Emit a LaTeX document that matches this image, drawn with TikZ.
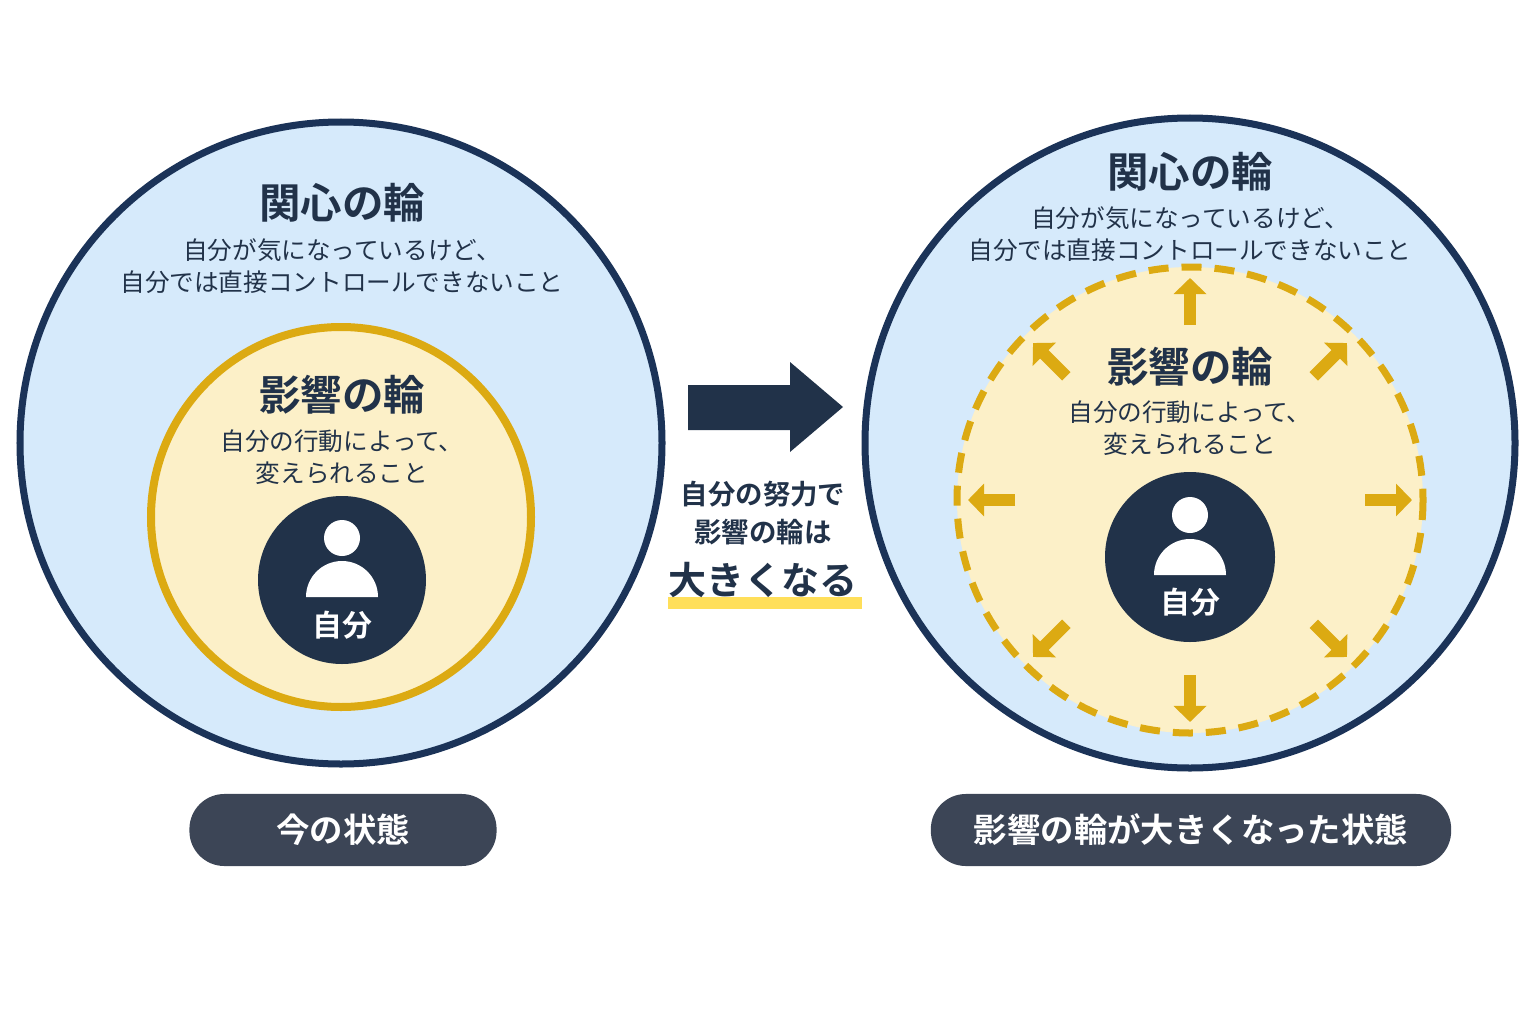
\documentclass[tikz,border=0pt]{standalone}
\usepackage{fontspec}
\usepackage{xcolor}
\newfontfamily\cjk{Noto Sans CJK JP}[BoldFont={Noto Sans CJK JP Bold}]
\usetikzlibrary{arrows.meta,calc}
\definecolor{ConcernFill}{HTML}{D6EAFB}
\definecolor{ConcernLine}{HTML}{1B3358}
\definecolor{InfluFill}{HTML}{FCF0C8}
\definecolor{InfluLine}{HTML}{DCAA12}
\definecolor{SelfDark}{HTML}{213249}
\definecolor{PillGray}{HTML}{3C4556}
\definecolor{Mark}{HTML}{FFDF5A}
\tikzset{
  title/.style={font=\cjk\bfseries\fontsize{11.8}{13}\selectfont, text=SelfDark},
  sub/.style={font=\cjk\fontsize{7}{9}\selectfont, text=SelfDark, align=center},
  pill/.style={fill=PillGray, rounded corners=3.5mm, text=white, font=\cjk\bfseries\fontsize{9.5}{11}\selectfont, minimum height=0.72cm},
  growarrow/.style={-{Triangle[length=1.6mm,width=3.2mm]}, line width=1.2mm, InfluLine}
}
\begin{document}
\begin{tikzpicture}[x=0.01cm,y=-0.01cm]
\useasboundingbox (0,0) rectangle (1536,1024);
%LEFT
\draw[line width=0.7mm, ConcernLine, fill=ConcernFill] (341,443) circle (321);
\draw[line width=0.8mm, InfluLine, fill=InfluFill] (341,517) circle (190);
\fill[SelfDark] (342,580) circle (84);
\fill[white] (342,538) circle (18);
\fill[white] (306,597) arc[start angle=180,end angle=360,radius=36] -- cycle;
\node[title] (lc) at (342,203) {関心の輪};
\node[sub] (lcs) at (342,266) {自分が気になっているけど、\\自分では直接コントロールできないこと};
\node[title] (li) at (342,395) {影響の輪};
\node[sub] (lis) at (342,457) {自分の行動によって、\\変えられること};
\node[font=\cjk\bfseries\fontsize{8.5}{10}\selectfont, text=white] (ls) at (342,625) {自分};
%MIDDLE
\fill[SelfDark] (688,385) -- (790,385) -- (790,362) -- (843,407) -- (790,452) -- (790,430) -- (688,430) -- cycle;
\fill[Mark] (668,597) rectangle (862,609);
\node[font=\cjk\bfseries\fontsize{7.8}{11}\selectfont, text=SelfDark, align=center] (mt) at (763,513) {自分の努力で\\影響の輪は};
\node[font=\cjk\bfseries\fontsize{10.8}{12}\selectfont, text=SelfDark] (mb) at (763,580) {大きくなる};
%RIGHT
\draw[line width=0.7mm, ConcernLine, fill=ConcernFill] (1190,443) circle (325);
\draw[line width=0.7mm, InfluLine, fill=InfluFill, dash pattern=on 2mm off 1.3mm] (1190,500) circle (233);
\foreach \a in {0,45,...,315}
  \draw[growarrow] ($(1190,500)+(\a:175)$) -- ($(1190,500)+(\a:222)$);
\fill[SelfDark] (1190,557) circle (85);
\fill[white] (1190,515) circle (18);
\fill[white] (1154,575) arc[start angle=180,end angle=360,radius=36] -- cycle;
\node[title] (rc) at (1190,172) {関心の輪};
\node[sub] (rcs) at (1190,234) {自分が気になっているけど、\\自分では直接コントロールできないこと};
\node[title] (ri) at (1190,367) {影響の輪};
\node[sub] (ris) at (1190,428) {自分の行動によって、\\変えられること};
\node[font=\cjk\bfseries\fontsize{8.5}{10}\selectfont, text=white] (rs) at (1190,602) {自分};
%LABELS
\node[pill, minimum width=3.07cm] (lp) at (343,830) {今の状態};
\node[pill, minimum width=5.2cm] (rp) at (1191,830) {影響の輪が大きくなった状態};
\end{tikzpicture}
\end{document}
